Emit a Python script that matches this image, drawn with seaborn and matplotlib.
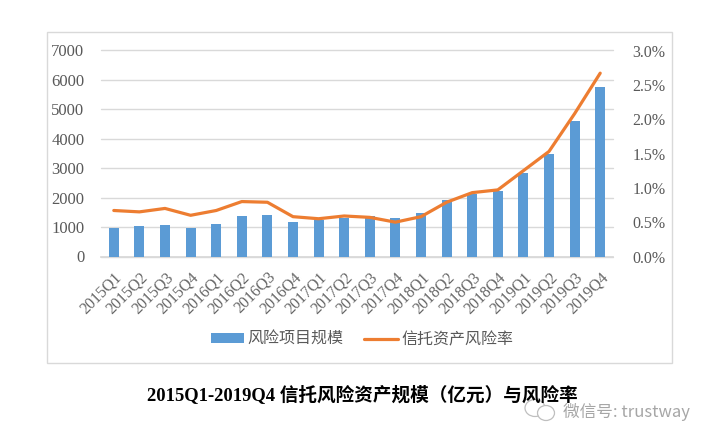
import matplotlib
matplotlib.use('Agg')
import pandas as pd
import matplotlib.pyplot as plt
import seaborn as sns
from matplotlib.patches import Rectangle, Ellipse
from matplotlib.ticker import PercentFormatter

quarters = ['2015Q1', '2015Q2', '2015Q3', '2015Q4', '2016Q1', '2016Q2', '2016Q3', '2016Q4',
            '2017Q1', '2017Q2', '2017Q3', '2017Q4', '2018Q1', '2018Q2', '2018Q3', '2018Q4',
            '2019Q1', '2019Q2', '2019Q3', '2019Q4']
scale = [963, 1030, 1065, 963, 1100, 1370, 1400, 1165, 1257, 1325,
         1370, 1300, 1470, 1915, 2140, 2220, 2830, 3477, 4600, 5755]
rate = [0.67, 0.65, 0.70, 0.60, 0.67, 0.80, 0.79, 0.58, 0.55, 0.59,
        0.57, 0.50, 0.58, 0.79, 0.93, 0.97, 1.25, 1.53, 2.08, 2.67]

W, H = 714, 443
BLUE = '#5B9BD5'
ORANGE = '#ED7D31'
GRID = '#D9D9D9'
TICK = '#595959'

sns.set_theme(style='white')
plt.rcParams['font.family'] = ['Liberation Serif', 'Noto Sans CJK SC', 'DejaVu Sans']

df = pd.DataFrame({'quarter': quarters, 'scale': scale, 'rate': rate})

fig = plt.figure(figsize=(W / 100, H / 100), dpi=100)
fig.patch.set_facecolor('white')

# outer chart frame
fig.add_artist(Rectangle((46.7 / W, 1 - 363.3 / H), 625 / W, 331.3 / H, transform=fig.transFigure,
                         fill=False, edgecolor=GRID, linewidth=1))

ax = fig.add_axes([101 / W, 1 - 256.5 / H, 512 / W, 206 / H])
# linewidth=0, otherwise the white patch edge eats into the bars
sns.barplot(data=df, x='quarter', y='scale', color=BLUE, width=0.39, saturation=1, linewidth=0, ax=ax, zorder=3,
            label='风险项目规模', legend=False)
ax.set_xlim(-0.5, 19.5)
ax.set_ylim(0, 7000)
ax.set_yticks(range(0, 7001, 1000))
ax.set_xlabel('')
ax.set_ylabel('')
ax.grid(axis='y', color=GRID, linewidth=1, clip_on=False)
ax.set_axisbelow(True)
for s in ['top', 'left', 'right']:
    ax.spines[s].set_visible(False)
ax.spines['bottom'].set_color(GRID)
ax.tick_params(axis='y', length=0, labelsize=12, labelcolor=TICK, pad=12)
ax.tick_params(axis='x', length=0, labelsize=11.5, labelcolor='#666666', pad=9)
plt.setp(ax.get_xticklabels(), rotation=45, ha='right', rotation_mode='anchor')

ax2 = ax.twinx()
sns.lineplot(data=df, x='quarter', y='rate', color=ORANGE, linewidth=2.3, ax=ax2, zorder=4,
             label='信托资产风险率', legend=False)
ax2.set_ylim(0, 3)
ax2.set_yticks([0, 0.5, 1, 1.5, 2, 2.5, 3])
ax2.yaxis.set_major_formatter(PercentFormatter(decimals=1))
ax2.set_xlabel('')
ax2.set_ylabel('')
for s in ax2.spines.values():
    s.set_visible(False)
ax2.tick_params(axis='y', length=0, labelsize=11.5, labelcolor=TICK, pad=14)

h1, l1 = ax.get_legend_handles_labels()
h2, l2 = ax2.get_legend_handles_labels()
fig.legend(h1 + h2, l1 + l2, loc='center', bbox_to_anchor=(362 / W, 1 - 340 / H), ncol=2, frameon=False,
           fontsize=11.5, labelcolor=TICK, columnspacing=1.3, handlelength=2.1, handleheight=0.6,
           handletextpad=0.2)

fig.text(362.5 / W, 1 - 394.5 / H, '2015Q1-2019Q4 信托风险资产规模（亿元）与风险率', ha='center', va='center',
         fontsize=13.4, fontweight='bold', color='black')

# watermark
fig.text(563 / W, 1 - 412 / H, '微信号: trustway', ha='left', va='center', fontsize=12,
         color='#A6A6A6', family=['Noto Sans CJK SC', 'DejaVu Sans'])
fig.add_artist(Ellipse((535 / W, 1 - 408 / H), 20 / W, 17 / H, transform=fig.transFigure,
                       fill=False, edgecolor='#BFBFBF', linewidth=0.9))
fig.add_artist(Ellipse((546 / W, 1 - 413 / H), 17 / W, 15 / H, transform=fig.transFigure,
                       facecolor='white', edgecolor='#BFBFBF', linewidth=0.9))

fig.savefig('out.png', dpi=100)
